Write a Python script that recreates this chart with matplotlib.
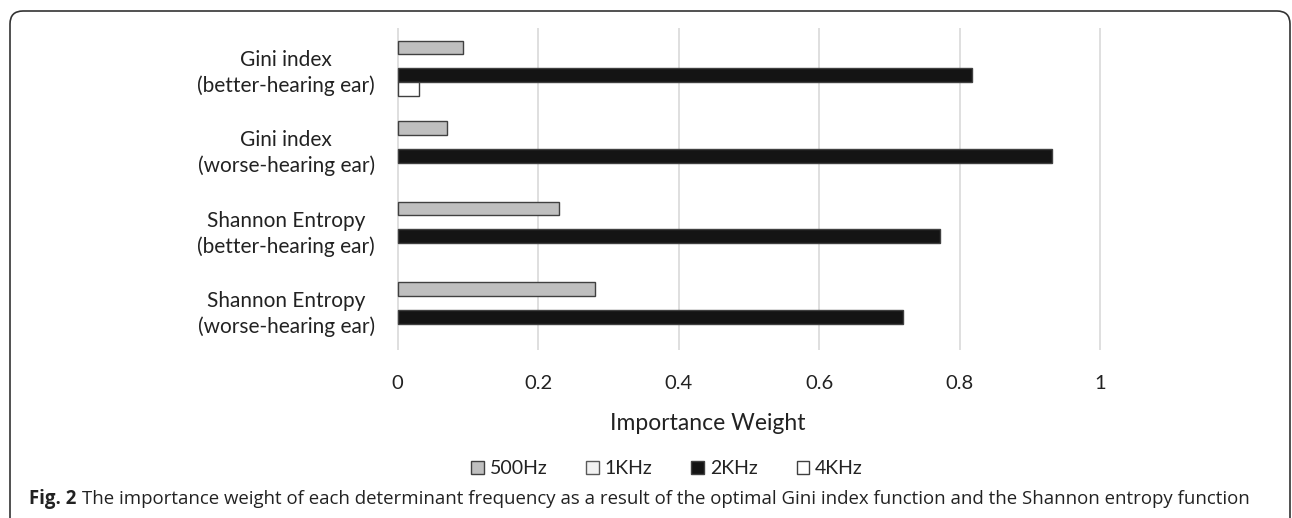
import matplotlib
matplotlib.use("Agg")
import matplotlib.pyplot as plt
import numpy as np
from matplotlib.patches import FancyBboxPatch, Patch

categories = ["Gini index\n(better-hearing ear)",
              "Gini index\n(worse-hearing ear)",
              "Shannon Entropy\n(better-hearing ear)",
              "Shannon Entropy\n(worse-hearing ear)"]
series_names = ["500Hz", "1KHz", "2KHz", "4KHz"]
v_500 = [0.093, 0.070, 0.229, 0.281]
v_1k = [0.0, 0.0, 0.0, 0.0]
v_2k = [0.817, 0.931, 0.772, 0.719]
v_4k = [0.031, 0.0, 0.0, 0.0]
x_ticks = [0, 0.2, 0.4, 0.6, 0.8, 1.0]
x_ticklabels = ["0", "0.2", "0.4", "0.6", "0.8", "1"]
xlabel = "Importance Weight"
caption_bold = "Fig. 2"
caption_rest = ("The importance weight of each determinant frequency as a result of the "
                "optimal Gini index function and the Shannon entropy function")

series = [v_500, v_1k, v_2k, v_4k]
fills = ["#bfbfbf", "#f2f2f2", "#141414", "#ffffff"]
edges = ["#404040", "#595959", "#404040", "#404040"]

W, H = 1292, 518
fig = plt.figure(figsize=(W / 100, H / 100), dpi=100)
FONT = "Lato"
plt.rcParams["font.family"] = FONT
TXT = "#222222"

ax = fig.add_axes([397 / W, 1 - 350 / H, (1101 - 397) / W, (350 - 28) / H])
y = np.arange(len(categories))
slot = 0.171
for i, (vals, fc, ec, name) in enumerate(zip(series, fills, edges, series_names)):
    lw = [1.0 if v > 0 else 0.0 for v in vals]
    ax.barh(y + (i - 1.5) * slot, vals, height=slot, color=fc, edgecolor=ec,
            linewidth=lw, label=name, zorder=3)

ax.set_xlim(-0.001, 1.001)
ax.set_ylim(len(categories) - 0.5, -0.5)
ax.set_xticks(x_ticks)
ax.set_xticklabels(x_ticklabels)
ax.set_yticks(y)
ax.set_yticklabels(categories)
for lab in ax.get_yticklabels():
    lab.set_multialignment("center")
    lab.set_linespacing(1.3)
    lab.set_fontsize(15)
ax.tick_params(axis="both", length=0, colors=TXT)
ax.tick_params(axis="x", pad=18, labelsize=14.5)
ax.tick_params(axis="y", pad=16)
ax.grid(axis="x", color="#d9d9d9", linewidth=1.2, zorder=0)
ax.set_axisbelow(True)
for s in ax.spines.values():
    s.set_visible(False)

fig.text(708 / W, 1 - 423 / H, xlabel, ha="center", va="center", fontsize=16.5, color=TXT)

handles = [Patch(facecolor=fc, edgecolor=ec, linewidth=1.0, label=n)
           for fc, ec, n in zip(fills, edges, series_names)]
leg = fig.legend(handles=handles, loc="center", bbox_to_anchor=(667 / W, 1 - 469 / H),
                 ncol=4, frameon=False, fontsize=14, handlelength=0.65, handleheight=0.65,
                 handletextpad=0.3, columnspacing=2.0)
for t in leg.get_texts():
    t.set_color(TXT)

t1 = fig.text(29 / W, 1 - 499 / H, caption_bold, ha="left", va="center", fontsize=13.4,
              fontweight="bold", family="Open Sans", color=TXT)
fig.add_artist(plt.Annotation(caption_rest, xy=(1, 0.5), xycoords=t1, xytext=(4, 0),
                              textcoords="offset points", va="center", ha="left",
                              fontsize=13.4, family="Open Sans", color=TXT))

frame = FancyBboxPatch((10 / 100, -0.3), (1290 - 10) / 100, (507) / 100 + 0.3,
                       boxstyle="round,pad=0,rounding_size=0.13",
                       transform=fig.dpi_scale_trans, fill=False,
                       edgecolor="#333333", linewidth=1.2)
fig.add_artist(frame)

fig.savefig("out.png", dpi=100)
